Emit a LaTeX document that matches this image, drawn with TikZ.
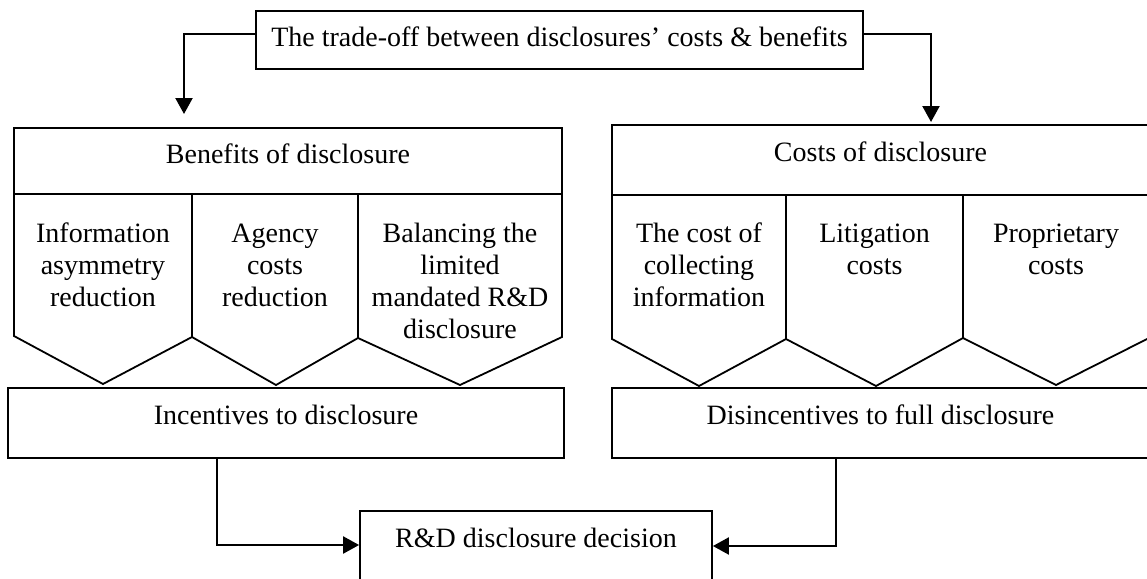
\documentclass[tikz,border=0pt]{standalone}
\usepackage{fontspec}
\setmainfont{Liberation Serif}
\usetikzlibrary{arrows.meta}

\tikzset{
  box/.style={draw, line width=1.8pt, inner sep=0pt},
  outline/.style={line width=1.8pt, line join=miter},
  txt/.style={inner sep=0pt, anchor=base, font=\fontsize{28}{32.3}\selectfont},
  conn/.style={line width=2.2pt, -{Triangle[length=16pt,width=17pt]}},
}
\newcommand{\colbody}[1]{\parbox[t]{200pt}{\centering #1}}

\begin{document}
\begin{tikzpicture}[x=1pt,y=-1pt]
  \useasboundingbox (0,0) rectangle (1147,578);
  \clip (0,0) rectangle (1147,578);

  % top: the trade-off
  \node[box, minimum width=607pt, minimum height=58pt] (top) at (559.5,40) {};
  \node[txt] (topt) at (559.5,47) {The trade-off between disclosures’ costs \& benefits};

  % benefits side
  \node[box, minimum width=548pt, minimum height=66pt] (ben) at (288,161) {};
  \node[txt] (bent) at (288,163) {Benefits of disclosure};
  \draw[outline] (14,194) -- (14,336) -- (103,384) -- (192,337) -- (276,385)
                 -- (358,338) -- (460,385) -- (562,337) -- (562,194);
  \draw[outline] (192,194) -- (192,337);
  \draw[outline] (358,194) -- (358,338);
  \node[txt] (b1) at (103,242) {\colbody{Information\\asymmetry\\reduction}};
  \node[txt] (b2) at (275,242) {\colbody{Agency\\costs\\reduction}};
  \node[txt] (b3) at (460,242) {\colbody{Balancing the\\limited\\mandated R\&D\\disclosure}};

  \node[box, minimum width=556pt, minimum height=70pt] (inc) at (286,423) {};
  \node[txt] (inct) at (286,424) {Incentives to disclosure};

  % costs side
  \node[box, minimum width=537pt, minimum height=70pt] (cost) at (880.5,160) {};
  \node[txt] (costt) at (880.5,161) {Costs of disclosure};
  \draw[outline] (612,195) -- (612,339) -- (699,386) -- (786,339) -- (876,386)
                 -- (963,338) -- (1056,385) -- (1149,338) -- (1149,195);
  \draw[outline] (786,195) -- (786,339);
  \draw[outline] (963,195) -- (963,338);
  \node[txt] (c1) at (699,242) {\colbody{The cost of\\collecting\\information}};
  \node[txt] (c2) at (874.5,242) {\colbody{Litigation\\costs}};
  \node[txt] (c3) at (1056,242) {\colbody{Proprietary\\costs}};

  \node[box, minimum width=537pt, minimum height=70pt] (dis) at (880.5,423) {};
  \node[txt] (dist) at (880.5,424) {Disincentives to full disclosure};

  % decision
  \node[box, minimum width=352pt, minimum height=80pt] (dec) at (536,551) {};
  \node[txt] (dect) at (536,547) {R\&D disclosure decision};

  % connectors
  \coordinate (benin) at (184,114);
  \coordinate (costin) at (931,122);
  \draw[conn] ([yshift=6pt]top.west) -| (benin);
  \draw[conn] ([yshift=6pt]top.east) -| (costin);
  \draw[conn] ([xshift=-69pt]inc.south) |- ([yshift=6pt]dec.west);
  \draw[conn] ([xshift=-44.5pt]dis.south) |- ([yshift=5pt]dec.east);
\end{tikzpicture}
\end{document}
